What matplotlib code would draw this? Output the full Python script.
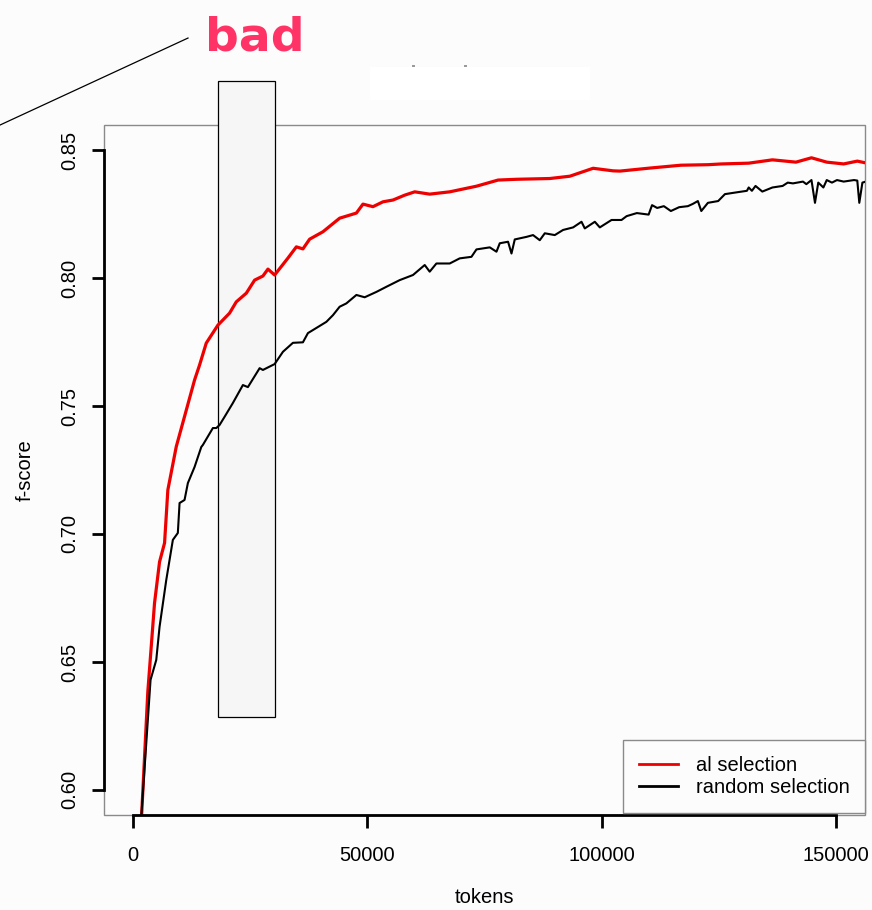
import matplotlib
matplotlib.use("Agg")
import matplotlib.pyplot as plt
from matplotlib.patches import Rectangle
from matplotlib.lines import Line2D

plt.rcParams['font.family'] = ['Liberation Sans', 'DejaVu Sans']

# learning curves: f-score against number of annotated tokens
al_tokens = [1800, 3260, 4690, 5760, 6830, 7530, 9320, 13230, 14290, 15720,
             18200, 20690, 22120, 24260, 26030, 27800, 28870, 30300, 33130, 34930,
             36330, 37760, 40600, 44160, 47730, 49130, 51270, 53400, 55540, 58030,
             60170, 63360, 67630, 73330, 77940, 81860, 88970, 93230, 98200, 102470,
             103900, 110410, 116910, 122680, 125600, 131380, 136440, 141450, 144760, 148020,
             151630, 154530, 156600]
al_fscore = [0.585, 0.6384, 0.6730, 0.6891, 0.6965, 0.7172, 0.7341, 0.7602, 0.7660, 0.7746,
             0.7816, 0.7863, 0.7907, 0.7941, 0.7992, 0.8008, 0.8035, 0.8012, 0.8078, 0.8122,
             0.8114, 0.8152, 0.8181, 0.8234, 0.8254, 0.8289, 0.8279, 0.8298, 0.8305, 0.8324,
             0.8337, 0.8328, 0.8337, 0.8359, 0.8383, 0.8386, 0.8389, 0.8398, 0.8429, 0.8419,
             0.8418, 0.8430, 0.8441, 0.8443, 0.8446, 0.8449, 0.8462, 0.8453, 0.8470, 0.8453,
             0.8446, 0.8457, 0.8449]

rand_tokens = [1700, 3840, 5060, 5760, 7190, 8600, 9660, 10030, 11090, 11800,
               13230, 14660, 15000, 17130, 17860, 18560, 19630, 21400, 23530, 24600,
               27100, 27800, 30300, 32070, 34200, 36330, 37400, 39190, 41330, 42730,
               44160, 45590, 47730, 49500, 52000, 54130, 56960, 59800, 62300, 63360,
               64790, 67630, 69760, 72260, 73330, 76170, 77600, 78300, 80070, 80800,
               81500, 84000, 85400, 86830, 87900, 90030, 91800, 93940, 95730, 96430,
               98570, 99630, 102130, 104260, 105350, 107530, 110040, 110770, 111860, 113290,
               114780, 116550, 118410, 119480, 120540, 121270, 122680, 124870, 126310, 128440,
               131000, 131380, 132060, 132830, 134280, 136440, 138610, 139700, 140810, 142950,
               143670, 144760, 145510, 146210, 147300, 148020, 149130, 150200, 151630, 153830,
               154530, 154960, 155620, 157030]
rand_fscore = [0.585, 0.6430, 0.6508, 0.6637, 0.6820, 0.6977, 0.7004, 0.7121, 0.7133, 0.7199,
               0.7262, 0.7340, 0.7348, 0.7414, 0.7414, 0.7426, 0.7458, 0.7512, 0.7582, 0.7574,
               0.7648, 0.7641, 0.7664, 0.7712, 0.7747, 0.7749, 0.7785, 0.7805, 0.7829, 0.7855,
               0.7888, 0.7901, 0.7934, 0.7925, 0.7946, 0.7966, 0.7992, 0.8012, 0.8051, 0.8025,
               0.8057, 0.8057, 0.8077, 0.8083, 0.8112, 0.8120, 0.8103, 0.8136, 0.8142, 0.8096,
               0.8151, 0.8161, 0.8168, 0.8148, 0.8175, 0.8168, 0.8188, 0.8198, 0.8220, 0.8194,
               0.8220, 0.8198, 0.8227, 0.8227, 0.8242, 0.8254, 0.8248, 0.8285, 0.8274, 0.8281,
               0.8262, 0.8277, 0.8281, 0.8290, 0.8301, 0.8262, 0.8294, 0.8301, 0.8328, 0.8334,
               0.8341, 0.8354, 0.8341, 0.8360, 0.8338, 0.8354, 0.8360, 0.8373, 0.8370, 0.8377,
               0.8367, 0.8383, 0.8294, 0.8373, 0.8354, 0.8383, 0.8373, 0.8383, 0.8377, 0.8383,
               0.8381, 0.8294, 0.8373, 0.8381]

x_ticks = [0, 50000, 100000, 150000]
y_ticks = [0.60, 0.65, 0.70, 0.75, 0.80, 0.85]
y_ticklabels = ["0.60", "0.65", "0.70", "0.75", "0.80", "0.85"]
series_labels = ["al selection", "random selection"]

# highlighted token range
box_x = (18290, 30380)
box_y = (0.6284, 0.8771)

bg = '#fcfcfc'
fig = plt.figure(figsize=(8.72, 9.10), dpi=100, facecolor=bg)
ax = fig.add_axes([0.1193, 0.1044, 0.8727, 0.7582], facecolor=bg)

ax.set_xlim(-6077, 156180)
ax.set_ylim(0.5902, 0.8598)

# thin grey box around the plotting region
ax.add_patch(Rectangle((0, 0), 1, 1, transform=ax.transAxes, fill=False,
                       edgecolor='#8a8a8a', lw=1.0, zorder=0.5, clip_on=False))

ax.add_patch(Rectangle((box_x[0], box_y[0]), box_x[1] - box_x[0], box_y[1] - box_y[0],
                       facecolor='#f6f6f6', edgecolor='black', lw=0.9,
                       zorder=1, clip_on=False))

ax.plot(al_tokens, al_fscore, color='#ee0000', lw=2.3, zorder=2, label=series_labels[0])
ax.plot(rand_tokens, rand_fscore, color='black', lw=1.5, zorder=2, label=series_labels[1])

# R style axes: black lines only over the tick range
for side in ['top', 'right']:
    ax.spines[side].set_visible(False)
for side in ['left', 'bottom']:
    ax.spines[side].set_linewidth(2.0)
    ax.spines[side].set_color('black')
    ax.spines[side].set_zorder(3)
ax.spines['left'].set_bounds(0.60, 0.85)
ax.spines['bottom'].set_bounds(0, 150000)

ax.set_xticks(x_ticks)
ax.set_xticklabels([str(v) for v in x_ticks])
ax.set_yticks(y_ticks)
ax.set_yticklabels(y_ticklabels)
ax.tick_params(axis='both', length=9, width=2.0, labelsize=14.5, colors='black')
ax.tick_params(axis='x', pad=13)
ax.tick_params(axis='y', pad=9, labelrotation=90)
for lab in ax.get_yticklabels():
    lab.set_va('center')

fig.text(0.0287, 0.4835, "f-score", rotation=90, ha='center', va='center', fontsize=14.5)
fig.text(0.5556, 0.0132, "tokens", ha='center', va='center', fontsize=14.5)

leg = ax.legend(loc='lower right', bbox_to_anchor=(1.0, 0.003), fontsize=14.5,
                frameon=True, fancybox=False, edgecolor='#8a8a8a', framealpha=1,
                facecolor=bg, handlelength=1.95, handletextpad=0.85,
                borderpad=0.78, labelspacing=0.15, borderaxespad=0)
leg.get_frame().set_linewidth(1.0)
for h in leg.get_lines():
    h.set_linewidth(2.0)

# callout line and label above the plot
fig.add_artist(Line2D([0.0, 0.2156], [0.8626, 0.9582], color='black', lw=0.9))
fig.text(0.235, 0.945, "bad", color='#ff3366', fontsize=34, fontweight='bold',
         family='DejaVu Sans', ha='left', va='baseline')

# blank title strip with two stray marks
fig.add_artist(Rectangle((0.4243, 0.8901), 0.2523, 0.0363, transform=fig.transFigure,
                         facecolor='white', edgecolor='none'))
for mx in [0.4725, 0.5321]:
    fig.add_artist(Rectangle((mx, 0.9264), 0.0034, 0.0022, transform=fig.transFigure,
                             facecolor='#999999', edgecolor='none'))

fig.savefig("out.png", dpi=100, facecolor=bg)
